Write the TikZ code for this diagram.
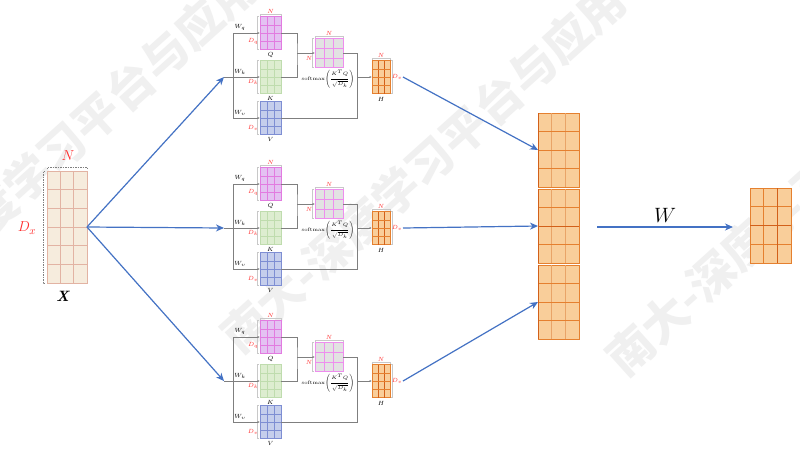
\documentclass[tikz,border=0pt]{standalone}
\usepackage{amsmath}
\usepackage{fontspec}
\newfontfamily\cjk{Noto Sans CJK SC}
\usetikzlibrary{arrows.meta,calc}

\definecolor{blu}{HTML}{4472C4}
\definecolor{xf}{HTML}{F6ECDD}
\definecolor{xl}{HTML}{E2B3A3}
\definecolor{qf}{HTML}{E4C1F2}
\definecolor{ql}{HTML}{E27BE0}
\definecolor{kf}{HTML}{DDEDD0}
\definecolor{kl}{HTML}{BFDCAE}
\definecolor{vf}{HTML}{C5CEEC}
\definecolor{vl}{HTML}{7E8ED3}
\definecolor{sf}{HTML}{E2E2E2}
\definecolor{sln}{HTML}{EE8EEE}
\definecolor{of}{HTML}{F9CE9A}
\definecolor{ol}{HTML}{E5802F}
\definecolor{ov}{HTML}{E9A468}
\definecolor{od}{HTML}{D2601A}
\definecolor{rtx}{HTML}{FF2A2A}
\definecolor{lg}{HTML}{7F7F7F}
\definecolor{brc}{HTML}{C8C8C8}
\definecolor{wmc}{HTML}{F0F0F0}

\newcommand\vgrid[3]{\foreach \f in {#2}{\draw[#3] ($(#1.north west)!\f!(#1.north east)$) -- ($(#1.south west)!\f!(#1.south east)$);}}
\newcommand\hgrid[3]{\foreach \f in {#2}{\draw[#3] ($(#1.north west)!\f!(#1.south west)$) -- ($(#1.north east)!\f!(#1.south east)$);}}
\newcommand\topbr[1]{\draw[br] ([yshift=1pt]#1.north west) -- ++(0pt,1.5pt) -- ([yshift=2.5pt]#1.north east) -- ++(0pt,-1.5pt);}
\newcommand\leftbr[1]{\draw[br] ([xshift=-1pt]#1.north west) -- ++(-1.5pt,0pt) -- ([xshift=-2.5pt]#1.south west) -- ++(1.5pt,0pt);}
\newcommand\rightbr[1]{\draw[br] ([xshift=1pt]#1.north east) -- ++(1.5pt,0pt) -- ([xshift=2.5pt]#1.south east) -- ++(-1.5pt,0pt);}

\newcommand\head[2]{%
\begin{scope}[shift={(0,#2)}]
\coordinate (a#1) at (224,0);
\coordinate (lt#1) at (233,-44);
\coordinate (lm#1) at (233,0);
\coordinate (lb#1) at (233,41);
\coordinate (j#1) at (297,-24);
\coordinate (m#1) at (357,0);
\coordinate (ho#1) at (403,0);
\draw[gl] (lt#1) -- (lb#1);
\draw[gl] (a#1) -- (lm#1);
\node[mat,fill=qf,draw=ql,minimum width=21pt,minimum height=33pt] (q#1) at (270.5,-44) {};
\node[mat,fill=kf,draw=kl,minimum width=21pt,minimum height=33pt] (k#1) at (270.5,0) {};
\node[mat,fill=vf,draw=vl,minimum width=21pt,minimum height=33pt] (v#1) at (270.5,41) {};
\node[mat,fill=sf,draw=sln,minimum width=28pt,minimum height=29pt] (s#1) at (329,-24) {};
\node[mat,fill=of,draw=ol,minimum width=18pt,minimum height=33pt] (h#1) at (381,0) {};
\vgrid{q#1}{0.3333,0.6667}{ql,line width=0.5pt}
\hgrid{q#1}{0.25,0.5,0.75}{ql,line width=0.4pt}
\vgrid{k#1}{0.3333,0.6667}{kl,line width=0.5pt}
\hgrid{k#1}{0.25,0.5,0.75}{kl,line width=0.4pt}
\vgrid{v#1}{0.3333,0.6667}{vl,line width=0.5pt}
\hgrid{v#1}{0.25,0.5,0.75}{vl,line width=0.4pt}
\vgrid{s#1}{0.3333,0.6667}{sln,line width=0.5pt}
\hgrid{s#1}{0.3333,0.6667}{sln,line width=0.4pt}
\vgrid{h#1}{0.3333,0.6667}{od,line width=0.5pt}
\hgrid{h#1}{0.25,0.5,0.75}{ol,line width=0.4pt}
\topbr{q#1}\leftbr{q#1}\leftbr{k#1}\leftbr{v#1}
\topbr{s#1}\leftbr{s#1}\topbr{h#1}\rightbr{h#1}
\draw[ga] (lt#1) -- (q#1.west);
\draw[ga] (lm#1) -- (k#1.west);
\draw[ga] (lb#1) -- (v#1.west);
\draw[gl] (q#1.east) -| (j#1) |- (k#1.east);
\draw[ga] (j#1) -- (s#1.west);
\draw[gl] (s#1.east) -| (m#1);
\draw[gl] (v#1.east) -| (m#1);
\draw[ga] (m#1) -- (h#1.west);
\node[sl] (wq#1) at (240,-50) {$W_q$};
\node[sl] (wk#1) at (240,-5) {$W_k$};
\node[sl] (wv#1) at (240,36) {$W_v$};
\node[rl] (dq#1) at (253,-36) {$D_q$};
\node[rl] (dk#1) at (253,5) {$D_k$};
\node[rl] (dv#1) at (253,51) {$D_v$};
\node[rl] (nq#1) at (270.5,-66) {$N$};
\node[sl] (lq#1) at (270.5,-22) {$Q$};
\node[sl] (lk#1) at (270.5,21) {$K$};
\node[sl] (lv#1) at (270.5,62) {$V$};
\node[rl] (ns#1) at (329,-44) {$N$};
\node[rl] (nl#1) at (309,-19) {$N$};
\node[font=\fontsize{5}{6}\selectfont,inner sep=0pt] (sm#1) at (328,2) {softmax$\left(\dfrac{K^TQ}{\sqrt{D_k}}\right)$};
\node[rl] (nh#1) at (381,-22) {$N$};
\node[rl] (dh#1) at (397,0) {$D_v$};
\node[sl] (lh#1) at (381,22) {$H$};
\end{scope}}

\begin{document}
\begin{tikzpicture}[x=1pt,y=-1pt,
  mat/.style={rectangle,inner sep=0pt,outer sep=0pt,line width=0.6pt},
  gl/.style={draw=lg,line width=0.6pt},
  ga/.style={gl,-{Latex[length=2.4pt,width=2pt]}},
  ba/.style={draw=blu,line width=1.2pt,-{Stealth[length=8pt,width=7pt,inset=2.5pt]}},
  br/.style={draw=brc,line width=0.4pt},
  sl/.style={font=\fontsize{6}{7}\selectfont,inner sep=0pt},
  rl/.style={sl,text=rtx},
  wm/.style={font=\cjk\bfseries\fontsize{46}{46}\selectfont,text=wmc,rotate=42,inner sep=0pt},
  big/.style={font=\fontsize{15}{17}\selectfont,inner sep=0pt}]
\fill[white] (0,0) rectangle (800,459);
\useasboundingbox (0,0) rectangle (800,459);
% watermark
\node[wm,anchor=east] (wm1) at (250,-22) {南大-深度学习平台与应用};
\node[wm,anchor=east] (wm2) at (618,-8) {南大-深度学习平台与应用};
\node[wm,anchor=west] (wm3) at (613,365) {南大-深度学习平台与应用};
% input X
\node[mat,fill=xf,draw=xl,minimum width=40pt,minimum height=112pt] (x) at (67,227) {};
\vgrid{x}{0.3333,0.6667}{xl,line width=0.8pt}
\hgrid{x}{0.1667,0.3333,0.5,0.6667,0.8333}{xl,line width=0.6pt}
\draw[gray,line width=0.5pt,dash pattern=on 1.5pt off 1pt] ([yshift=2pt]x.north west) -- ++(0pt,2pt) -- ([yshift=4pt]x.north east) -- ++(0pt,-2pt);
\draw[gray,line width=0.5pt,dash pattern=on 1.5pt off 1pt] ([xshift=-2pt]x.north west) -- ++(-2pt,0pt) -- ([xshift=-4pt]x.south west) -- ++(2pt,0pt);
\node[big,text=rtx] (nx) at (68,156) {$N$};
\node[big,text=rtx] (dx) at (27,228) {$D_x$};
\node[big] (lx) at (63,296) {\textbf{\textit{X}}};
% heads
\head{1}{77}
\head{2}{228}
\head{3}{381}
\draw[ba] (x.east) -- (a1);
\draw[ba] (x.east) -- (a2);
\draw[ba] (x.east) -- (a3);
% concatenation
\foreach \n/\yy in {1/150,2/226,3/302}{
  \node[mat,fill=of,draw=ol,line width=0.8pt,minimum width=41pt,minimum height=74pt] (c\n) at (558.5,\yy) {};
  \vgrid{c\n}{0.3333,0.6667}{ov,line width=1.2pt}
  \hgrid{c\n}{0.25,0.5,0.75}{ol,line width=0.8pt}
  \draw[od,line width=1pt] (c\n.north west) -- (c\n.south west);
}
\draw[od,line width=0.9pt] (c2.west) -- (c2.east);
\draw[ba] (ho1) -- (c1.west);
\draw[ba] (ho2) -- (c2.west);
\draw[ba] (ho3) -- (c3.west);
% output
\coordinate (wo) at (597,227);
\coordinate (we) at (733,227);
\draw[ba] (wo) -- (we);
\node[font=\fontsize{22}{24}\selectfont,inner sep=0pt] (wl) at (665,215) {$W$};
\node[mat,fill=of,draw=ol,line width=0.8pt,minimum width=41pt,minimum height=75pt] (o) at (770.5,225.5) {};
\vgrid{o}{0.3333,0.6667}{ol,line width=0.8pt}
\hgrid{o}{0.25,0.5,0.75}{ol,line width=0.8pt}
\draw[od,line width=1pt] (o.west) -- (o.east);
\draw[od,line width=1pt] ($(o.north west)!0.6667!(o.north east)$) -- ($(o.south west)!0.6667!(o.south east)$);
\end{tikzpicture}
\end{document}
